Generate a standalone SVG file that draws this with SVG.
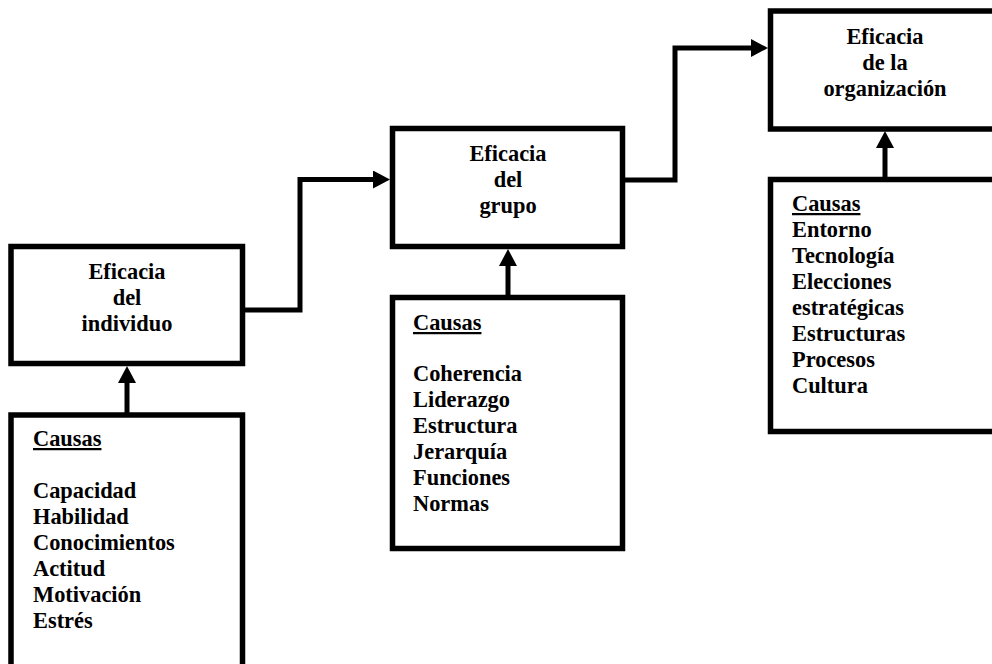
<svg xmlns="http://www.w3.org/2000/svg" width="992" height="664" viewBox="0 0 992 664">
<defs>
<style>
.box{fill:#fff;stroke:#000;stroke-width:5.5}
.t{font-family:"Liberation Serif","Times New Roman",serif;font-weight:bold;font-size:22.4px;fill:#000}
.c{text-anchor:middle}
.u{text-decoration:underline}
.con{fill:none;stroke:#000;stroke-width:5;stroke-linejoin:miter}
</style>
<marker id="ah" markerUnits="userSpaceOnUse" markerWidth="17" markerHeight="18" refX="0" refY="9" orient="auto" viewBox="0 0 17 18">
<path d="M0,0 L17,9 L0,18 z" fill="#000"/>
</marker>
</defs>
<rect width="992" height="664" fill="#fff"/>
<g id="connectors">
<path class="con" d="M242,310 H300 V179.5 H373" marker-end="url(#ah)"/>
<path class="con" d="M622,180 H675 V48 H751" marker-end="url(#ah)"/>
<path class="con" d="M127,415 V383" marker-end="url(#ah)"/>
<path class="con" d="M508,297 V266" marker-end="url(#ah)"/>
<path class="con" d="M885,180 V148" marker-end="url(#ah)"/>
</g>
<g id="individuo">
<rect class="box" x="11" y="246.5" width="231.5" height="117"/>
<text class="t c" x="127" y="279">Eficacia</text>
<text class="t c" x="127" y="305">del</text>
<text class="t c" x="127" y="331">individuo</text>
</g>
<g id="causas-individuo">
<rect class="box" x="11" y="415" width="231.5" height="270"/>
<text class="t u" x="33" y="446">Causas</text>
<text class="t" x="33" y="498">Capacidad</text>
<text class="t" x="33" y="524">Habilidad</text>
<text class="t" x="33" y="550">Conocimientos</text>
<text class="t" x="33" y="576">Actitud</text>
<text class="t" x="33" y="602">Motivación</text>
<text class="t" x="33" y="628">Estrés</text>
</g>
<g id="grupo">
<rect class="box" x="392.5" y="128.5" width="230" height="118"/>
<text class="t c" x="508" y="161">Eficacia</text>
<text class="t c" x="508" y="187">del</text>
<text class="t c" x="508" y="213">grupo</text>
</g>
<g id="causas-grupo">
<rect class="box" x="392.5" y="297.5" width="230" height="251"/>
<text class="t u" x="413" y="330">Causas</text>
<text class="t" x="413" y="381">Coherencia</text>
<text class="t" x="413" y="407">Liderazgo</text>
<text class="t" x="413" y="433">Estructura</text>
<text class="t" x="413" y="459">Jerarquía</text>
<text class="t" x="413" y="485">Funciones</text>
<text class="t" x="413" y="511">Normas</text>
</g>
<g id="organizacion">
<rect class="box" x="770.5" y="11" width="240" height="118"/>
<text class="t c" x="885" y="44">Eficacia</text>
<text class="t c" x="885" y="70">de la</text>
<text class="t c" x="885" y="96">organización</text>
</g>
<g id="causas-organizacion">
<rect class="box" x="770.5" y="179.5" width="240" height="252"/>
<text class="t u" x="792" y="211">Causas</text>
<text class="t" x="792" y="237">Entorno</text>
<text class="t" x="792" y="263">Tecnología</text>
<text class="t" x="792" y="289">Elecciones</text>
<text class="t" x="792" y="315">estratégicas</text>
<text class="t" x="792" y="341">Estructuras</text>
<text class="t" x="792" y="367">Procesos</text>
<text class="t" x="792" y="393">Cultura</text>
</g>
</svg>
